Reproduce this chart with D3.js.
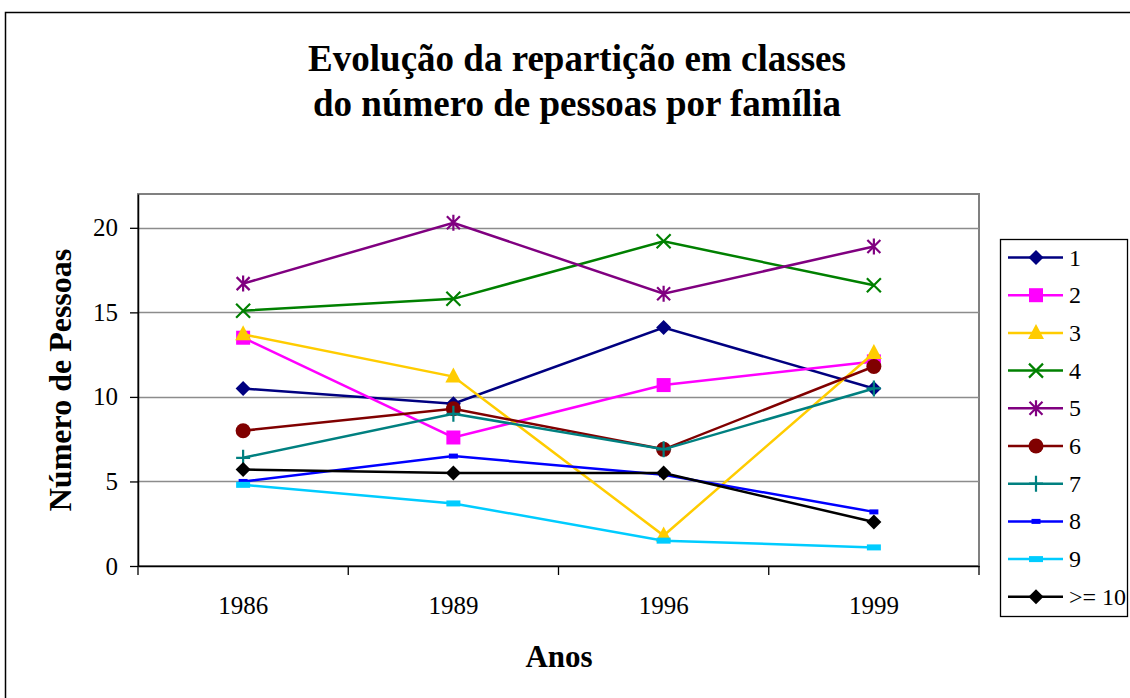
<!DOCTYPE html>
<html lang="pt">
<head>
<meta charset="utf-8">
<title>Evolução da repartição em classes</title>
<script src="https://cdn.jsdelivr.net/npm/d3@7"></script>
<style>
  body { margin: 0; background: #fff; }
  svg { display: block; font-family: "Liberation Serif", "Times New Roman", serif; }
</style>
</head>
<body>
<script>
// data
var anos = ["1986", "1989", "1996", "1999"];
var classes = ["1", "2", "3", "4", "5", "6", "7", "8", "9", ">= 10"];
var s1 = [10.5, 9.6, 14.1, 10.5];
var s2 = [13.5, 7.6, 10.7, 12.1];
var s3 = [13.7, 11.2, 1.8, 12.6];
var s4 = [15.1, 15.8, 19.2, 16.6];
var s5 = [16.7, 20.3, 16.1, 18.9];
var s6 = [8.0, 9.3, 6.9, 11.8];
var s7 = [6.4, 9.0, 6.9, 10.5];
var s8 = [5.0, 6.5, 5.4, 3.2];
var s9 = [4.8, 3.7, 1.5, 1.1];
var s10 = [5.7, 5.5, 5.5, 2.6];
var yTicks = [0, 5, 10, 15, 20];

var valores = [s1, s2, s3, s4, s5, s6, s7, s8, s9, s10];
var cores = ["#000080", "#ff00ff", "#ffcc00", "#008000", "#800080",
             "#800000", "#008080", "#0000ff", "#00ccff", "#000000"];
var simbolos = ["diamond", "square", "triangle", "x", "star",
                "circle", "plus", "dash", "wdash", "diamond"];

var W = 1130, H = 698;
var plot = {left: 138, top: 194, right: 979, bottom: 566};

var svg = d3.select("body").append("svg")
  .attr("width", W).attr("height", H);

// outer chart frame
svg.append("rect")
  .attr("x", 5.5).attr("y", 12.5)
  .attr("width", 1140).attr("height", 700)
  .attr("fill", "#fff").attr("stroke", "#000").attr("stroke-width", 1.5);

// title
var title = svg.append("text")
  .attr("text-anchor", "middle")
  .attr("font-weight", "bold")
  .attr("font-size", 37);
title.append("tspan").attr("x", 577).attr("y", 71).text("Evolução da repartição em classes");
title.append("tspan").attr("x", 577).attr("y", 116).text("do número de pessoas por família");

var x = d3.scaleBand().domain(anos).range([plot.left, plot.right]);
var y = d3.scaleLinear().domain([0, 22]).range([plot.bottom, plot.top]);

// plot area frame (gray)
svg.append("rect")
  .attr("x", plot.left).attr("y", plot.top)
  .attr("width", plot.right - plot.left).attr("height", plot.bottom - plot.top)
  .attr("fill", "none").attr("stroke", "#808080").attr("stroke-width", 2);

// gridlines
svg.append("g").selectAll("line").data(yTicks.filter(function(d){ return d > 0; }))
  .enter().append("line")
  .attr("x1", plot.left).attr("x2", plot.right)
  .attr("y1", function(d){ return Math.round(y(d)) + 0.5; })
  .attr("y2", function(d){ return Math.round(y(d)) + 0.5; })
  .attr("stroke", "#8c8c8c").attr("stroke-width", 1.3);

// y axis
var yAxis = svg.append("g")
  .attr("transform", "translate(" + plot.left + ",0)")
  .call(d3.axisLeft(y).tickValues(yTicks).tickSize(8).tickPadding(12).tickSizeOuter(0));
yAxis.select(".domain").attr("stroke", "#000").attr("stroke-width", 1.5);
yAxis.selectAll(".tick line").attr("stroke", "#000").attr("stroke-width", 1.3);
yAxis.selectAll("text").attr("font-size", 25).attr("font-family", "Liberation Serif").attr("fill", "#000");

// x axis, ticks between categories
var xAxis = svg.append("g")
  .attr("transform", "translate(0," + plot.bottom + ")")
  .call(d3.axisBottom(x).tickSize(0).tickPadding(30).tickSizeOuter(0));
xAxis.select(".domain").attr("stroke", "#000").attr("stroke-width", 1.5);
xAxis.selectAll("text").attr("font-size", 25).attr("font-family", "Liberation Serif").attr("fill", "#000");
var bordas = anos.map(function(d){ return x(d); }).concat([x(anos[anos.length - 1]) + x.bandwidth()]);
xAxis.selectAll(".sep").data(bordas).enter().append("line")
  .attr("x1", function(d){ return d; }).attr("x2", function(d){ return d; })
  .attr("y1", 0).attr("y2", 9)
  .attr("stroke", "#000").attr("stroke-width", 1.3);

// axis titles
svg.append("text")
  .attr("transform", "translate(71,380) rotate(-90)")
  .attr("text-anchor", "middle").attr("font-weight", "bold").attr("font-size", 32)
  .text("Número de Pessoas");
svg.append("text")
  .attr("x", 559).attr("y", 667)
  .attr("text-anchor", "middle").attr("font-weight", "bold").attr("font-size", 31)
  .text("Anos");

// marker drawing
function marcador(g, tipo, cor) {
  if (tipo === "diamond") {
    g.append("path").attr("d", "M0,-7.5L7.5,0L0,7.5L-7.5,0Z").attr("fill", cor);
  } else if (tipo === "square") {
    g.append("rect").attr("x", -7).attr("y", -7).attr("width", 14).attr("height", 14).attr("fill", cor);
  } else if (tipo === "triangle") {
    g.append("path").attr("d", "M0,-9L8,6L-8,6Z").attr("fill", cor);
  } else if (tipo === "circle") {
    g.append("circle").attr("r", 7.5).attr("fill", cor);
  } else if (tipo === "x") {
    g.append("path").attr("d", "M-7,-7L7,7M-7,7L7,-7").attr("stroke", cor).attr("stroke-width", 2.2);
  } else if (tipo === "star") {
    g.append("path").attr("d", "M-6.5,-6.5L6.5,6.5M-6.5,6.5L6.5,-6.5M0,-8L0,8")
      .attr("stroke", cor).attr("stroke-width", 2.2);
  } else if (tipo === "plus") {
    g.append("path").attr("d", "M-7,0L7,0M0,-8L0,8").attr("stroke", cor).attr("stroke-width", 2.2);
  } else if (tipo === "dash") {
    g.append("rect").attr("x", -4.5).attr("y", -2.5).attr("width", 9).attr("height", 5).attr("fill", cor);
  } else if (tipo === "wdash") {
    g.append("rect").attr("x", -7).attr("y", -3).attr("width", 14).attr("height", 6).attr("fill", cor);
  }
}

var linha = d3.line()
  .x(function(d, i){ return x(anos[i]) + x.bandwidth() / 2; })
  .y(function(d){ return y(d); });

var series = svg.append("g").selectAll("g").data(valores).enter().append("g");
series.each(function(vals, k) {
  var g = d3.select(this);
  g.append("path").attr("d", linha(vals))
    .attr("fill", "none").attr("stroke", cores[k]).attr("stroke-width", 2.5);
  vals.forEach(function(v, i) {
    var m = g.append("g").attr("transform",
      "translate(" + (x(anos[i]) + x.bandwidth() / 2) + "," + y(v) + ")");
    marcador(m, simbolos[k], cores[k]);
  });
});

// legend
var leg = svg.append("g");
leg.append("rect")
  .attr("x", 1000.5).attr("y", 239.5).attr("width", 127).attr("height", 377)
  .attr("fill", "#fff").attr("stroke", "#000").attr("stroke-width", 1.3);
var itens = leg.selectAll("g.item").data(classes).enter().append("g")
  .attr("class", "item")
  .attr("transform", function(d, i){ return "translate(0," + (257.5 + i * 37.7) + ")"; });
itens.append("line")
  .attr("x1", 1008).attr("x2", 1063).attr("y1", 0).attr("y2", 0)
  .attr("stroke", function(d, i){ return cores[i]; }).attr("stroke-width", 2.5);
itens.each(function(d, i) {
  var m = d3.select(this).append("g").attr("transform", "translate(1036,0)");
  marcador(m, simbolos[i], cores[i]);
});
itens.append("text")
  .attr("x", 1069).attr("y", 8)
  .attr("font-size", 24)
  .text(function(d){ return d; });
</script>
</body>
</html>
